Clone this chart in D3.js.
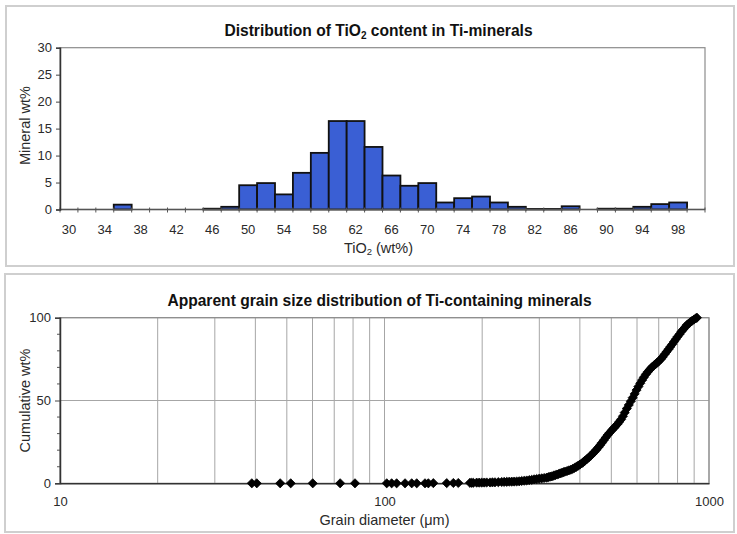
<!DOCTYPE html>
<html>
<head>
<meta charset="utf-8">
<script src="https://cdn.jsdelivr.net/npm/d3@7"></script>
<style>
  body { margin: 0; background: #fff; }
  text { font-family: "Liberation Sans", Arial, sans-serif; }
</style>
</head>
<body>
<svg id="chart" width="737" height="534"></svg>
<script>
// ---- TiO2 histogram (2 wt% bins) ----
const tioBins = [30,32,34,36,38,40,42,44,46,48,50,52,54,56,58,60,62,64,66,68,
                 70,72,74,76,78,80,82,84,86,88,90,92,94,96,98,100];
const tioMineralWt = [0,0,0,0.9,0,0,0,0,0.15,0.5,4.5,4.9,2.8,6.8,10.5,16.4,16.4,11.6,6.3,4.4,
                      4.9,1.3,2.1,2.4,1.3,0.5,0.1,0.1,0.6,0,0.15,0.15,0.5,1.0,1.3,0];
const tioTickLabels = [30,34,38,42,46,50,54,58,62,66,70,74,78,82,86,90,94,98];
const mineralTicks = [0,5,10,15,20,25,30];

// ---- Cumulative grain size distribution ----
const grainDiameter = [
  39,40.4,47.7,51.4,60.1,73,81.1,
  101.6,105.2,109,115.7,121.3,125.7,133.3,136.5,141.4,155.5,163,168.8,183.4,185.5,187.8,192.3,195.8,199.3,
  202.9,206.5,211.4,215.1,219,224.3,229.7,233.8,238.1,242.3,246.6,251,255.5,260.1,264.7,269.5,274.3,279.2,
  284.2,289.3,294.4,299.7,305.1,310.5,
  316,320,324,328,332,336,340,344,348,352,356,360,365,370,375,380,385,390,395,400,405,410,415,420,
  426,432,438,444,450,456,462,468,474,480,487,494,501,508,515,522,529,536,543,550,558,566,574,582,
  590,598,606,614,622,630,639,648,657,666,675,684,693,702,711,720,730,740,750,760,770,780,790,800,
  811,822,833,844,855,866,877,888,899,910,918
];
const cumulativeWt = [
  0,0,0,0,0,0,0,
  0,0,0,0,0,0,0,0,0.1,0.1,0.2,0.2,0.3,0.3,0.3,0.4,0.4,0.4,
  0.45,0.5,0.5,0.55,0.6,0.7,0.8,0.85,0.9,0.95,1.0,1.05,1.1,1.2,1.4,1.55,1.7,1.9,
  2.1,2.4,2.6,2.8,3.0,3.2,
  3.4,3.7,4.0,4.2,4.6,4.9,5.3,5.6,6.0,6.3,6.7,7.0,7.4,7.8,8.2,8.7,9.3,9.9,10.6,11.3,12.0,12.8,13.7,14.5,
  15.6,16.7,17.8,19.1,20.3,21.7,23.1,24.5,26.0,27.5,29.1,30.5,31.9,33.2,34.4,35.7,37.1,38.6,40.5,42.7,45.1,47.3,49.5,51.7,
  54.0,56.3,58.4,60.4,62.3,64.0,65.8,67.3,68.7,70.0,71.0,71.9,72.9,74.0,75.0,76.3,77.9,79.4,80.9,82.4,83.9,85.5,87.0,88.5,
  90.0,91.6,92.9,94.3,95.6,96.5,97.4,98.2,98.9,99.6,100
];
const grainTicks = [10,100,1000];
const cumTicks = [0,50,100];
const cumMinorTicks = [10,20,30,40,60,70,80,90];

const svg = d3.select("#chart");
const textColor = "#2a2a2a";
const tickFont = 13;
const axisTitleFont = 14.5;
const titleFont = 15.6;

// panel frames
svg.append("rect").attr("x",6).attr("y",6).attr("width",728).attr("height",260)
  .attr("fill","none").attr("stroke","#cfcfcf").attr("stroke-width",2);
svg.append("rect").attr("x",5).attr("y",274).attr("width",729).attr("height",258)
  .attr("fill","none").attr("stroke","#cfcfcf").attr("stroke-width",2);

// ================= Top: histogram =================
const histArea = {left:60, right:705, top:47.7, bottom:209.5};
const xBand = d3.scaleBand().domain(tioBins).range([histArea.left, histArea.right]).padding(0);
const yTop = d3.scaleLinear().domain([0,30]).range([histArea.bottom, histArea.top]);

svg.append("rect").attr("x",histArea.left).attr("y",histArea.top)
  .attr("width",histArea.right-histArea.left).attr("height",histArea.bottom-histArea.top)
  .attr("fill","none").attr("stroke","#8c8c8c").attr("stroke-width",1.2);

svg.append("g").selectAll("rect").data(tioBins).join("rect")
  .attr("x", d => xBand(d))
  .attr("width", xBand.bandwidth())
  .attr("y", (d,i) => yTop(tioMineralWt[i]))
  .attr("height", (d,i) => yTop(0) - yTop(tioMineralWt[i]))
  .attr("fill", "#3a5fd4")
  .attr("stroke", (d,i) => tioMineralWt[i] > 0 ? "#111" : "none")
  .attr("stroke-width", 1.8);

// x axis line and category boundary ticks
svg.append("line").attr("x1",histArea.left).attr("x2",histArea.right)
  .attr("y1",yTop(0)).attr("y2",yTop(0)).attr("stroke","#555").attr("stroke-width",1.5);
const bounds = tioBins.map(d => xBand(d)).concat([xBand(tioBins[tioBins.length-1]) + xBand.bandwidth()]);
svg.append("g").selectAll("line").data(bounds).join("line")
  .attr("x1", d => d).attr("x2", d => d)
  .attr("y1", yTop(0) - 2).attr("y2", yTop(0) + 3)
  .attr("stroke","#555").attr("stroke-width",1);

const xAxisTop = svg.append("g").attr("transform", `translate(0,${yTop(0)})`)
  .call(d3.axisBottom(xBand).tickValues(tioTickLabels).tickSize(0).tickPadding(15));
xAxisTop.select(".domain").remove();
xAxisTop.selectAll("text").attr("font-size",tickFont).attr("fill",textColor)
  .style("font-family","'Liberation Sans', Arial, sans-serif");

const yAxisTop = svg.append("g").attr("transform", `translate(${histArea.left},0)`)
  .call(d3.axisLeft(yTop).tickValues(mineralTicks).tickSize(4).tickPadding(4));
yAxisTop.select(".domain").attr("stroke","#333").attr("stroke-width",1.5);
yAxisTop.selectAll(".tick line").attr("stroke","#444");
yAxisTop.selectAll("text").attr("font-size",tickFont).attr("fill",textColor)
  .style("font-family","'Liberation Sans', Arial, sans-serif");

// titles
const t1 = svg.append("text").attr("x",(histArea.left+histArea.right)/2 - 4).attr("y",36)
  .attr("text-anchor","middle").attr("font-size",titleFont).attr("font-weight","bold").attr("fill","#111");
t1.append("tspan").text("Distribution of TiO");
t1.append("tspan").text("2").attr("font-size",10).attr("dy",3);
t1.append("tspan").text(" content in Ti-minerals").attr("dy",-3);

const xt1 = svg.append("text").attr("x",(histArea.left+histArea.right)/2 - 4).attr("y",253)
  .attr("text-anchor","middle").attr("font-size",axisTitleFont).attr("fill",textColor);
xt1.append("tspan").text("TiO");
xt1.append("tspan").text("2").attr("font-size",9.5).attr("dy",2);
xt1.append("tspan").text(" (wt%)").attr("dy",-2);

svg.append("text").attr("transform",`translate(30,${(histArea.top+histArea.bottom)/2 - 3}) rotate(-90)`)
  .attr("text-anchor","middle").attr("font-size",axisTitleFont).attr("fill",textColor).text("Mineral wt%");

// ================= Bottom: cumulative grain size =================
const cumArea = {left:60, right:709, top:317.7, bottom:483.3};
const xLog = d3.scaleLog().domain([10,1000]).range([cumArea.left, cumArea.right]);
const yBot = d3.scaleLinear().domain([0,100]).range([cumArea.bottom, cumArea.top]);

// gridlines
svg.append("g").selectAll("line").data(xLog.ticks()).join("line")
  .attr("x1", d => xLog(d)).attr("x2", d => xLog(d))
  .attr("y1", cumArea.top).attr("y2", cumArea.bottom)
  .attr("stroke","#a6a6a6").attr("stroke-width",1);
svg.append("g").selectAll("line").data(cumTicks.slice(1)).join("line")
  .attr("x1", cumArea.left).attr("x2", cumArea.right)
  .attr("y1", d => yBot(d)).attr("y2", d => yBot(d))
  .attr("stroke","#a6a6a6").attr("stroke-width",1);

svg.append("rect").attr("x",cumArea.left).attr("y",cumArea.top)
  .attr("width",cumArea.right-cumArea.left).attr("height",cumArea.bottom-cumArea.top)
  .attr("fill","none").attr("stroke","#8c8c8c").attr("stroke-width",1.2);

// y axis with minor ticks
svg.append("g").selectAll("line").data(cumMinorTicks).join("line")
  .attr("x1", cumArea.left - 3).attr("x2", cumArea.left)
  .attr("y1", d => yBot(d)).attr("y2", d => yBot(d))
  .attr("stroke","#555").attr("stroke-width",1);
const yAxisBot = svg.append("g").attr("transform", `translate(${cumArea.left},0)`)
  .call(d3.axisLeft(yBot).tickValues(cumTicks).tickSize(5).tickPadding(4));
yAxisBot.select(".domain").attr("stroke","#333").attr("stroke-width",1.5);
yAxisBot.selectAll(".tick line").attr("stroke","#444");
yAxisBot.selectAll("text").attr("font-size",tickFont).attr("fill",textColor)
  .style("font-family","'Liberation Sans', Arial, sans-serif");

const xAxisBot = svg.append("g").attr("transform", `translate(0,${cumArea.bottom})`)
  .call(d3.axisBottom(xLog).tickValues(grainTicks).tickFormat(d3.format("d")).tickSize(0).tickPadding(13));
xAxisBot.select(".domain").attr("stroke","#333").attr("stroke-width",1.5);
xAxisBot.selectAll("text").attr("font-size",tickFont).attr("fill",textColor)
  .style("font-family","'Liberation Sans', Arial, sans-serif");

// diamond markers
const diamond = {
  draw(ctx, size) {
    const r = Math.sqrt(size / 2);
    ctx.moveTo(0, -r); ctx.lineTo(r, 0); ctx.lineTo(0, r); ctx.lineTo(-r, 0); ctx.closePath();
  }
};
const sym = d3.symbol().type(diamond).size(42);
svg.append("g").selectAll("path").data(grainDiameter).join("path")
  .attr("transform", (d,i) => `translate(${xLog(d)},${yBot(cumulativeWt[i])})`)
  .attr("d", sym)
  .attr("fill","#000").attr("stroke","#000").attr("stroke-width",0.8);

svg.append("text").attr("x",(cumArea.left+cumArea.right)/2 - 5).attr("y",306)
  .attr("text-anchor","middle").attr("font-size",titleFont).attr("font-weight","bold").attr("fill","#111")
  .text("Apparent grain size distribution of Ti-containing minerals");

svg.append("text").attr("x",(cumArea.left+cumArea.right)/2).attr("y",525)
  .attr("text-anchor","middle").attr("font-size",axisTitleFont).attr("fill",textColor)
  .text("Grain diameter (\u03bcm)");

svg.append("text").attr("transform",`translate(30,${(cumArea.top+cumArea.bottom)/2}) rotate(-90)`)
  .attr("text-anchor","middle").attr("font-size",axisTitleFont).attr("fill",textColor).text("Cumulative wt%");
</script>
</body>
</html>
